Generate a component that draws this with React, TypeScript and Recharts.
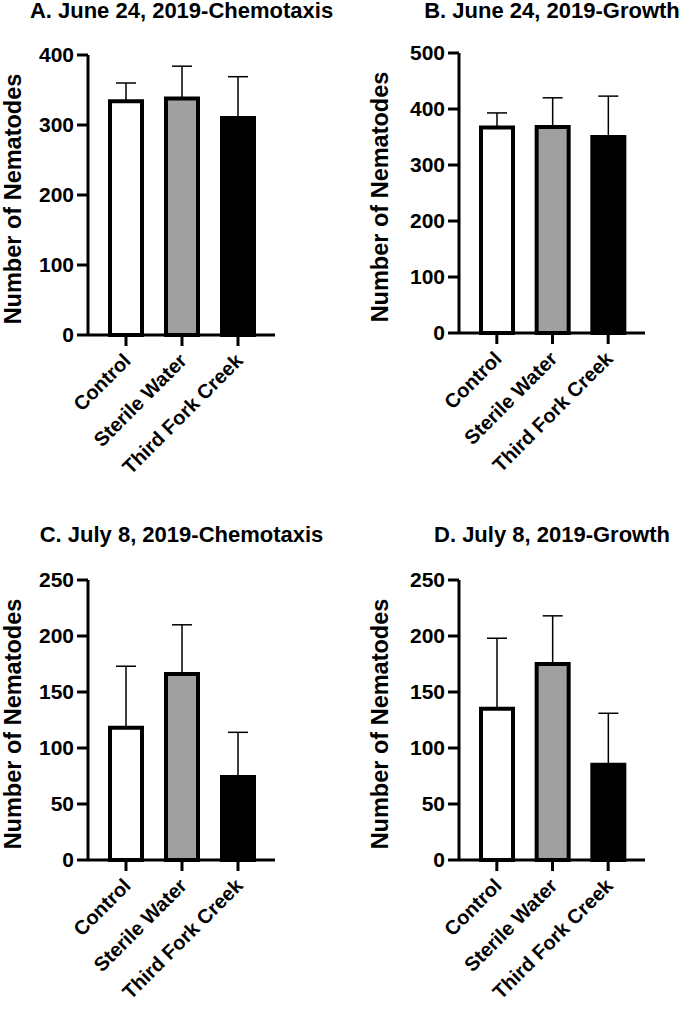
import { BarChart, Bar, XAxis, YAxis, ErrorBar, Cell } from 'recharts'

const categories = ['Control', 'Sterile Water', 'Third Fork Creek']
const barColors = ['#ffffff', '#a0a0a0', '#000000']

const juneChemoMeans = [334, 338, 310]
const juneChemoSD = [26, 46, 59]
const juneGrowthMeans = [367, 368, 350]
const juneGrowthSD = [26, 52, 73]
const julyChemoMeans = [118, 166, 74]
const julyChemoSD = [55, 44, 40]
const julyGrowthMeans = [135, 175, 85]
const julyGrowthSD = [63, 43, 46]

const juneChemoTicks = [0, 100, 200, 300, 400]
const juneGrowthTicks = [0, 100, 200, 300, 400, 500]
const julyTicks = [0, 50, 100, 150, 200, 250]

const FONT = '"Liberation Sans", Arial, Helvetica, sans-serif'

function RotatedTick(props: any) {
  const { x, y, payload } = props
  const tx = x + 6
  const ty = y + 14
  return (
    <text
      x={tx}
      y={ty}
      textAnchor="end"
      transform={`rotate(-45, ${tx}, ${ty})`}
      fontFamily={FONT}
      fontWeight="bold"
      fontSize={20}
      fill="#000"
    >
      {payload.value}
    </text>
  )
}

interface PanelProps {
  title: string
  means: number[]
  sds: number[]
  ticks: number[]
  left: number
  top: number
  axisWidth: number
  rightMargin: number
  topMargin: number
  height: number
  titleTop: number
  labelX: number
}

function Panel({ title, means, sds, ticks, left, top, axisWidth, rightMargin, topMargin, height, titleTop, labelX }: PanelProps) {
  const data = categories.map((name, i) => ({ name, mean: means[i], err: [0, sds[i]] }))
  const width = 342
  const plotCenter = axisWidth + (width - axisWidth - rightMargin) / 2
  const bottomSpace = height - topMargin - 280

  return (
    <div style={{ position: 'absolute', left, top, width, height }}>
      <div
        style={{
          position: 'absolute',
          top: titleTop,
          left: plotCenter - 200,
          width: 400,
          textAlign: 'center',
          fontFamily: FONT,
          fontWeight: 'bold',
          fontSize: 22,
          lineHeight: '22px',
          whiteSpace: 'nowrap',
        }}
      >
        {title}
      </div>
      <BarChart
        width={width}
        height={height}
        data={data}
        margin={{ top: topMargin, right: rightMargin, bottom: 0, left: 0 }}
        barCategoryGap={0}
      >
        <XAxis
          dataKey="name"
          padding={{ left: 10, right: 9 }}
          stroke="#000"
          strokeWidth={3}
          tickSize={11}
          tickMargin={2}
          tick={<RotatedTick />}
          interval={0}
          height={bottomSpace}
        />
        <YAxis
          width={axisWidth}
          domain={[0, ticks[ticks.length - 1]]}
          ticks={ticks}
          interval={0}
          stroke="#000"
          strokeWidth={3}
          tickSize={11}
          tickMargin={3}
          tick={{ fill: '#000', fontFamily: FONT, fontWeight: 'bold', fontSize: 21 }}
          label={{
            content: ({ viewBox }: any) => {
              const cx = labelX
              const cy = viewBox.y + viewBox.height / 2 + 4
              return (
                <text
                  x={cx}
                  y={cy}
                  textAnchor="middle"
                  dominantBaseline="central"
                  transform={`rotate(-90, ${cx}, ${cy})`}
                  fontFamily={FONT}
                  fontWeight="bold"
                  fontSize={23.5}
                  fill="#000"
                >
                  Number of Nematodes
                </text>
              )
            },
          }}
        />
        <Bar dataKey="mean" barSize={32} stroke="#000" strokeWidth={4} isAnimationActive={false}>
          {data.map((d, i) => (
            <Cell key={d.name} fill={barColors[i]} />
          ))}
          <ErrorBar dataKey="err" width={10} stroke="#000" strokeWidth={1.5} direction="y" />
        </Bar>
      </BarChart>
    </div>
  )
}

export default function App() {
  return (
    <div style={{ position: 'absolute', left: 0, top: 0, width: 685, height: 1014, background: '#fff' }}>
      <Panel
        title="A. June 24, 2019-Chemotaxis"
        means={juneChemoMeans}
        sds={juneChemoSD}
        ticks={juneChemoTicks}
        left={0}
        top={0}
        axisWidth={88}
        rightMargin={67}
        topMargin={55}
        height={500}
        titleTop={0}
        labelX={13}
      />
      <Panel
        title="B. June 24, 2019-Growth"
        means={juneGrowthMeans}
        sds={juneGrowthSD}
        ticks={juneGrowthTicks}
        left={342}
        top={0}
        axisWidth={117}
        rightMargin={39}
        topMargin={53}
        height={500}
        titleTop={0}
        labelX={38}
      />
      <Panel
        title="C. July 8, 2019-Chemotaxis"
        means={julyChemoMeans}
        sds={julyChemoSD}
        ticks={julyTicks}
        left={0}
        top={500}
        axisWidth={88}
        rightMargin={67}
        topMargin={80}
        height={514}
        titleTop={24}
        labelX={13}
      />
      <Panel
        title="D. July 8, 2019-Growth"
        means={julyGrowthMeans}
        sds={julyGrowthSD}
        ticks={julyTicks}
        left={342}
        top={500}
        axisWidth={117}
        rightMargin={39}
        topMargin={80}
        height={514}
        titleTop={24}
        labelX={38}
      />
    </div>
  )
}
